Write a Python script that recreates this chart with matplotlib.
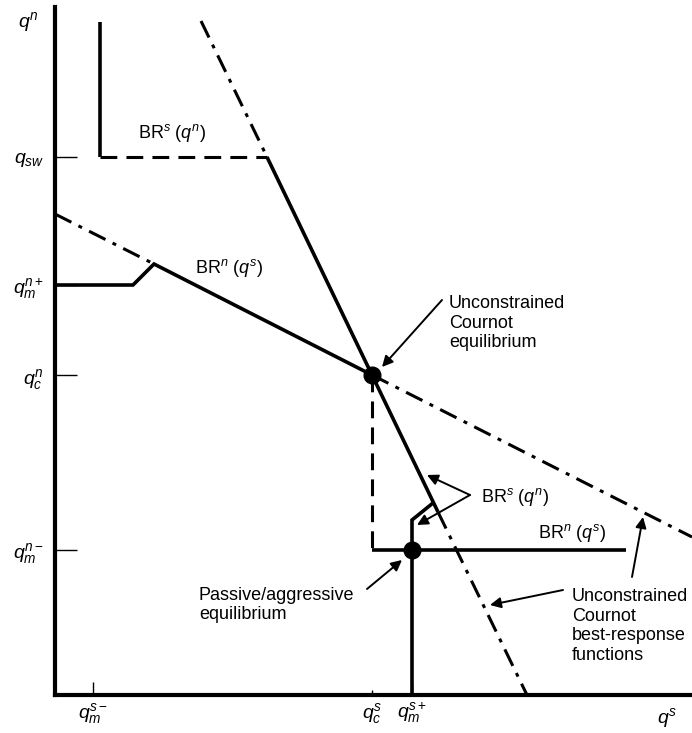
import matplotlib
matplotlib.use("Agg")
import matplotlib.pyplot as plt

plt.rcParams['font.family'] = ['Liberation Sans', 'DejaVu Sans']
plt.rcParams['mathtext.fontset'] = 'custom'
plt.rcParams['mathtext.rm'] = 'Liberation Sans'
plt.rcParams['mathtext.it'] = 'Liberation Sans:italic'

# key quantities (arbitrary units)
q_m_s_minus = 38
q_c_s = 317
q_m_s_plus = 357
q_sw = 538
q_m_n_plus = 410
q_c_n = 320
q_m_n_minus = 145
x_max, y_max = 637, 688

# unconstrained Cournot best-response functions (dash-dot parts)
unc_s_top_x, unc_s_top_y = [146, 212], [674, 538]
unc_s_bot_x, unc_s_bot_y = [383, 472], [183, 0]
unc_n_left_x, unc_n_left_y = [0, 99], [481, 431]
unc_n_right_x, unc_n_right_y = [q_c_s, 637], [q_c_n, 158]

# constrained best responses (solid / dashed)
br_s_steep_x, br_s_steep_y = [212, q_c_s, 383], [q_sw, q_c_n, 183]
br_s_top_x, br_s_top_y = [45, 45], [673, q_sw]
br_s_dash_x, br_s_dash_y = [45, 212], [q_sw, q_sw]
br_n_upper_x, br_n_upper_y = [0, 78, 99, q_c_s], [q_m_n_plus, q_m_n_plus, 431, q_c_n]
br_s_lower_x, br_s_lower_y = [q_m_s_plus, q_m_s_plus, 378], [0, 175, 192]
br_n_lower_x, br_n_lower_y = [q_c_s, 571], [q_m_n_minus, q_m_n_minus]
drop_x, drop_y = [q_c_s, q_c_s], [q_c_n, q_m_n_minus]

fig = plt.figure(figsize=(6.92, 7.33), dpi=100)
ax = fig.add_axes([55 / 692, 38 / 733, 637 / 692, 688 / 733])
ax.set_xlim(0, x_max)
ax.set_ylim(0, y_max)

dashdot = (0, (6, 2.6, 1.3, 2.6))
dashed = (0, (5.5, 3))
lw = 2.6

for xs, ys in [(unc_s_top_x, unc_s_top_y), (unc_s_bot_x, unc_s_bot_y),
               (unc_n_left_x, unc_n_left_y), (unc_n_right_x, unc_n_right_y)]:
    ax.plot(xs, ys, color='black', lw=2.2, linestyle=dashdot, dash_capstyle='butt')

for xs, ys in [(br_s_steep_x, br_s_steep_y), (br_s_top_x, br_s_top_y),
               (br_n_upper_x, br_n_upper_y), (br_s_lower_x, br_s_lower_y),
               (br_n_lower_x, br_n_lower_y)]:
    ax.plot(xs, ys, color='black', lw=lw, solid_capstyle='butt', solid_joinstyle='miter')

for xs, ys in [(br_s_dash_x, br_s_dash_y), (drop_x, drop_y)]:
    ax.plot(xs, ys, color='black', lw=2.2, linestyle=dashed, dash_capstyle='butt')

ax.plot([q_c_s, q_m_s_plus], [q_c_n, q_m_n_minus], 'o', color='black', ms=12,
        linestyle='none', clip_on=False)

# axes
for side in ['top', 'right']:
    ax.spines[side].set_visible(False)
for side in ['left', 'bottom']:
    ax.spines[side].set_linewidth(3)

ax.set_yticks([q_sw, q_m_n_plus, q_c_n, q_m_n_minus])
ax.set_yticklabels([r'$q_{sw}$', r'$q_m^{n+}$', r'$q_c^n$', r'$q_m^{n-}$'], fontsize=14)
ax.tick_params(axis='y', direction='in', length=16, width=1, pad=8)
ax.set_xticks([q_m_s_minus, q_m_s_plus])
ax.set_xticklabels([r'$q_m^{s-}$', r'$q_m^{s+}$'], fontsize=14)
ax.set_xticks([q_c_s], minor=True)
ax.set_xticklabels([r'$q_c^s$'], minor=True, fontsize=14)
ax.tick_params(axis='x', which='major', direction='in', length=9.5, width=1, pad=4)
ax.tick_params(axis='x', which='minor', direction='in', length=3.5, width=1, pad=4)

ax.text(-16, 673, r'$q^n$', fontsize=14, ha='right', va='center', clip_on=False)
ax.text(612, -23, r'$q^s$', fontsize=14, ha='center', va='center', clip_on=False)

fs = 13
ax.text(83, 562, r'BR$^s$ ($q^n$)', fontsize=fs, va='center')
ax.text(140, 427, r'BR$^n$ ($q^s$)', fontsize=fs, va='center')
ax.text(483, 162, r'BR$^n$ ($q^s$)', fontsize=fs, va='center')
ax.text(426, 198, r'BR$^s$ ($q^n$)', fontsize=fs, va='center')

arrow = dict(arrowstyle='-|>', color='black', lw=1.4, mutation_scale=16,
             shrinkA=0, shrinkB=0)
ax.annotate('Unconstrained\nCournot\nequilibrium', xy=(327, 328), xytext=(394, 372),
            fontsize=fs, va='center', ha='left', linespacing=1.2)
ax.annotate('', xy=(327, 328), xytext=(387, 395), arrowprops=arrow)

ax.annotate('', xy=(372, 220), xytext=(415, 200), arrowprops=arrow)
ax.annotate('', xy=(362, 170), xytext=(415, 200), arrowprops=arrow)

ax.text(144, 90, 'Passive/aggressive\nequilibrium', fontsize=fs, va='center',
        linespacing=1.2)
ax.annotate('', xy=(347, 135), xytext=(312, 106), arrowprops=arrow)

ax.text(517, 69, 'Unconstrained\nCournot\nbest-response\nfunctions', fontsize=fs,
        va='center', linespacing=1.2)
ax.annotate('', xy=(435, 90), xytext=(508, 105), arrowprops=arrow)
ax.annotate('', xy=(588, 178), xytext=(577, 118), arrowprops=arrow)

fig.savefig('out.png', dpi=100)
